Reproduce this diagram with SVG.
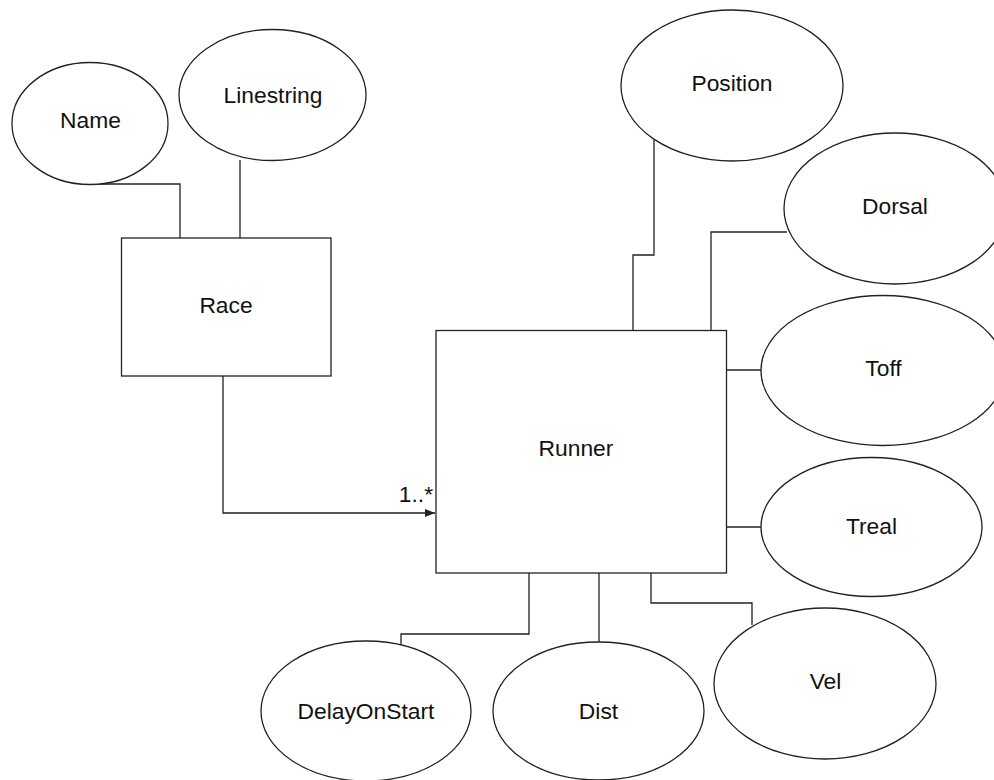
<svg xmlns="http://www.w3.org/2000/svg" width="994" height="780" viewBox="0 0 994 780">
<defs>
<style>
.shape{fill:#fff;stroke:#222;stroke-width:1.3}
.conn{fill:none;stroke:#222;stroke-width:1.3}
text{font-family:"Liberation Sans",Arial,sans-serif;font-size:22.8px;fill:#111;text-anchor:middle}
</style>
<marker id="arr" viewBox="0 0 10 8" refX="10" refY="4" markerWidth="10" markerHeight="8" markerUnits="userSpaceOnUse" orient="auto">
<path d="M0,0 L10,4 L0,8 Z" fill="#222"/>
</marker>
</defs>
<rect width="994" height="780" fill="#fff"/>
<g id="connectors">
<polyline class="conn" points="100,184 180,184 180,238"/>
<line class="conn" x1="240" y1="160" x2="240" y2="238"/>
<polyline class="conn" points="223,376 223,513 435,513" marker-end="url(#arr)"/>
<polyline class="conn" points="654,140 654,255 633,255 633,330"/>
<polyline class="conn" points="787,232 711,232 711,330"/>
<line class="conn" x1="726" y1="370" x2="761" y2="370"/>
<line class="conn" x1="726" y1="527" x2="761" y2="527"/>
<polyline class="conn" points="529,573 529,634 401,634 401,645"/>
<line class="conn" x1="599" y1="573" x2="599" y2="642"/>
<polyline class="conn" points="651,573 651,603 752,603 752,625"/>
<text x="433" y="502" style="text-anchor:end">1..*</text>
</g>
<g id="name"><ellipse class="shape" cx="90" cy="123.5" rx="78" ry="61"/><text x="90.5" y="127.5">Name</text></g>
<g id="linestring"><ellipse class="shape" cx="272.5" cy="95" rx="93.5" ry="65.5"/><text x="273" y="102.5">Linestring</text></g>
<g id="race"><rect class="shape" x="121.5" y="238" width="209.5" height="138"/><text x="226" y="312.5">Race</text></g>
<g id="runner"><rect class="shape" x="436" y="330.5" width="290.5" height="242.5"/><text x="576" y="456">Runner</text></g>
<g id="position"><ellipse class="shape" cx="732" cy="85.5" rx="111" ry="75.5"/><text x="732" y="90.5">Position</text></g>
<g id="dorsal"><ellipse class="shape" cx="895" cy="208.5" rx="111" ry="75.5"/><text x="895" y="213.5">Dorsal</text></g>
<g id="toff"><ellipse class="shape" cx="883" cy="370.5" rx="122" ry="75"/><text x="883.5" y="375.5">Toff</text></g>
<g id="treal"><ellipse class="shape" cx="871.5" cy="527" rx="110.5" ry="69.5"/><text x="871.5" y="533.5">Treal</text></g>
<g id="delayonstart"><ellipse class="shape" cx="366" cy="711" rx="105" ry="70"/><text x="366" y="719">DelayOnStart</text></g>
<g id="dist"><ellipse class="shape" cx="598.5" cy="711" rx="105.5" ry="69"/><text x="598.5" y="719">Dist</text></g>
<g id="vel"><ellipse class="shape" cx="825" cy="683.5" rx="111" ry="75.5"/><text x="825.5" y="688.5">Vel</text></g>
</svg>
